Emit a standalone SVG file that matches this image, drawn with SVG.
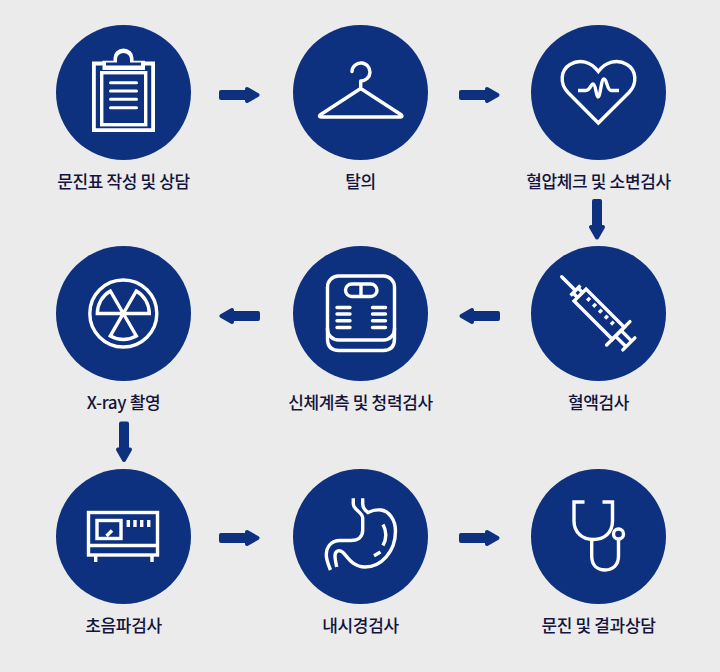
<svg xmlns="http://www.w3.org/2000/svg" xmlns:xlink="http://www.w3.org/1999/xlink" width="720" height="672" viewBox="0 0 720 672">
<style>
.c{fill:#0e317f}
.i{fill:none;stroke:#fff;stroke-width:3.400}
.r{stroke-linecap:round;stroke-linejoin:round}
.t{font-family:"Noto Sans CJK KR","Noto Sans",sans-serif;font-size:17px;font-weight:500;letter-spacing:-0.35px;fill:#14143c;text-anchor:middle}
.a{fill:#0e317f;stroke:#0e317f;stroke-width:4;stroke-linejoin:round}
</style>
<defs>
<path id="arr" d="M-18.500 -3H7.500V-6L18 0L7.500 6V3H-18.500Z"/>
</defs>
<rect width="720" height="672" fill="#ebebeb"/>
<g id="connectors">
<use xlink:href="#arr" href="#arr" class="a" transform="translate(239.500 95)"/>
<use xlink:href="#arr" href="#arr" class="a" transform="translate(479.500 95)"/>
<use xlink:href="#arr" href="#arr" class="a" transform="translate(597 219.500) rotate(90)"/>
<use xlink:href="#arr" href="#arr" class="a" transform="translate(479.500 316) rotate(180)"/>
<use xlink:href="#arr" href="#arr" class="a" transform="translate(239.500 316) rotate(180)"/>
<use xlink:href="#arr" href="#arr" class="a" transform="translate(124 442) rotate(90)"/>
<use xlink:href="#arr" href="#arr" class="a" transform="translate(239.500 538)"/>
<use xlink:href="#arr" href="#arr" class="a" transform="translate(479.500 538)"/>
</g>
<g id="n1">
<circle class="c" cx="123.500" cy="92.500" r="67.500"/>
<path class="i" style="stroke-width:3.800" d="M103 63.500H93.900V130.100H153.100V63.500H144"/>
<rect class="i" x="101.700" y="72.700" width="44" height="52"/>
<path fill="#fff" fill-rule="evenodd" d="M102.500 60.700H113.500V58A10 9.500 0 0 1 133.500 58V60.700H145V70H102.500ZM106 62.500V65.500H141V62.500H130V59A6.500 6 0 0 0 117 59V62.500Z"/>
<path class="i r" style="stroke-width:3" d="M110.500 82.700H136.500M110.500 91H136.500M110.500 99.300H136.500M110.500 107.700H136.500"/>
<text class="t" x="123.500" y="187.500">문진표 작성 및 상담</text>
</g>
<g id="n2">
<circle class="c" cx="360.500" cy="92.500" r="67.500"/>
<path class="i r" d="M352 71.500A9 9 0 1 1 360.700 81V88.500M360.700 88.500L320 115Q318.500 117 321 117H400Q403 117 401.500 115L360.700 88.500"/>
<text class="t" x="360.500" y="187.500">탈의</text>
</g>
<g id="n3">
<circle class="c" cx="598.500" cy="92.500" r="67.500"/>
<path class="i" d="M598.300 123L568 92.500C559 83 561 70 570 64.500C580 58.500 591 62 598.300 71.500C605.500 62 617 58.500 627 64.500C636 70 638 83 629 92.500Z"/>
<path class="i" d="M578 90.500H586C590 90.500 591 84 593 84C596 84 596 97 598 97C600.500 97 601 79 604 79C607 79 607 90.500 611 90.500H619"/>
<text class="t" x="598.500" y="187.500">혈압체크 및 소변검사</text>
</g>
<g id="n4">
<circle class="c" cx="598.500" cy="313.500" r="67.500"/>
<g transform="translate(561.700 276.700) rotate(45)">
<path class="i r" d="M0 0H18"/>
<path class="i" d="M19.500 -7V7M19.500 -3.500H26M19.500 3.500H26"/>
<path class="i" d="M26 -8.500H80V8.500H26Z"/>
<path class="i r" d="M80 -16.500V16.500"/>
<path class="i" d="M80 -4H94M80 4H94"/>
<path class="i r" d="M95 -8.500V8.500"/>
<path class="i" d="M35 -5V-1M43.400 -5V-1M51.800 -5V-1M60.200 -5V-1M68.600 -5V-1"/>
</g>
<text class="t" x="598.500" y="408.500">혈액검사</text>
</g>
<g id="n5">
<circle class="c" cx="360.500" cy="313.500" r="67.500"/>
<rect class="i" x="327.500" y="276" width="67" height="64" rx="11"/>
<path class="i" d="M327.500 328V339C327.500 347 332 350.500 339 350.500H383C390 350.500 394.500 347 394.500 339V328"/>
<rect class="i" x="345.500" y="284" width="31.500" height="12.500" rx="6.250"/>
<path class="i" d="M361 285V296"/>
<path class="i r" d="M337 307.500H350M337 314H350M337 320.700H350M337 327.500H350M372.500 307.500H385.500M372.500 314H385.500M372.500 320.700H385.500M372.500 327.500H385.500"/>
<text class="t" x="360.500" y="408.500">신체계측 및 청력검사</text>
</g>
<g id="n6">
<circle class="c" cx="123.500" cy="313.500" r="67.500"/>
<circle class="i" cx="123.300" cy="313.500" r="33.500"/>
<path class="i" d="M123.300 313.500H97.300A26 26 0 0 1 110.300 291ZM123.300 313.500L136.300 291A26 26 0 0 1 149.300 313.500ZM123.300 313.500L136.300 336A26 26 0 0 1 110.300 336Z"/>
<text class="t" x="123.500" y="408.500">X-ray 촬영</text>
</g>
<g id="n7">
<circle class="c" cx="123.500" cy="536.500" r="67.500"/>
<rect class="i" x="88.500" y="512.500" width="69" height="42.500"/>
<path class="i" d="M88.500 545.500H157.500M95.700 555V562M152 555V562"/>
<rect class="i" x="97" y="520.500" width="24" height="18"/>
<path class="i" d="M106.500 536L112 530.500"/>
<path class="i" d="M128.300 520V527M135 520V527M141.700 520V527M148.700 520V527"/>
<text class="t" x="123.500" y="631.500">초음파검사</text>
</g>
<g id="n8">
<circle class="c" cx="360.500" cy="536.500" r="67.500"/>
<path class="i" d="M353.300 498.300V504C353.300 510 362.700 512 362.700 518V530C362.700 537 358 540.500 351 540.500H340C331 540.500 326.300 547 326.300 555C326.300 560 328.500 565 330.500 570"/>
<path class="i" d="M362.700 498.300V504C362.700 508 365 510.500 368 512.500C373 510 377 509.500 381 510C389 511 395.500 520 395.500 531C395.500 552 381 567 365 567C352 567 347 556 343 552.500C339 549 335 551 335 556C335 560 336 563 336.700 567"/>
<path class="i" d="M383 524.500C386.500 531 386.500 539 383 545.500M374 555.700L380.500 552"/>
<text class="t" x="360.500" y="631.500">내시경검사</text>
</g>
<g id="n9">
<circle class="c" cx="598.500" cy="536.500" r="67.500"/>
<path class="i" d="M584.500 502H574V521C574 533 583 539.500 593.300 539.500C604 539.500 612.500 533 612.500 521V502H602.500"/>
<path class="i" d="M591.700 539.500V556C591.700 565 597 570 605 570C613 570 618.500 565 618.500 556V539.500"/>
<circle class="i" cx="618.500" cy="534" r="5"/>
<text class="t" x="598.500" y="631.500">문진 및 결과상담</text>
</g>
</svg>
